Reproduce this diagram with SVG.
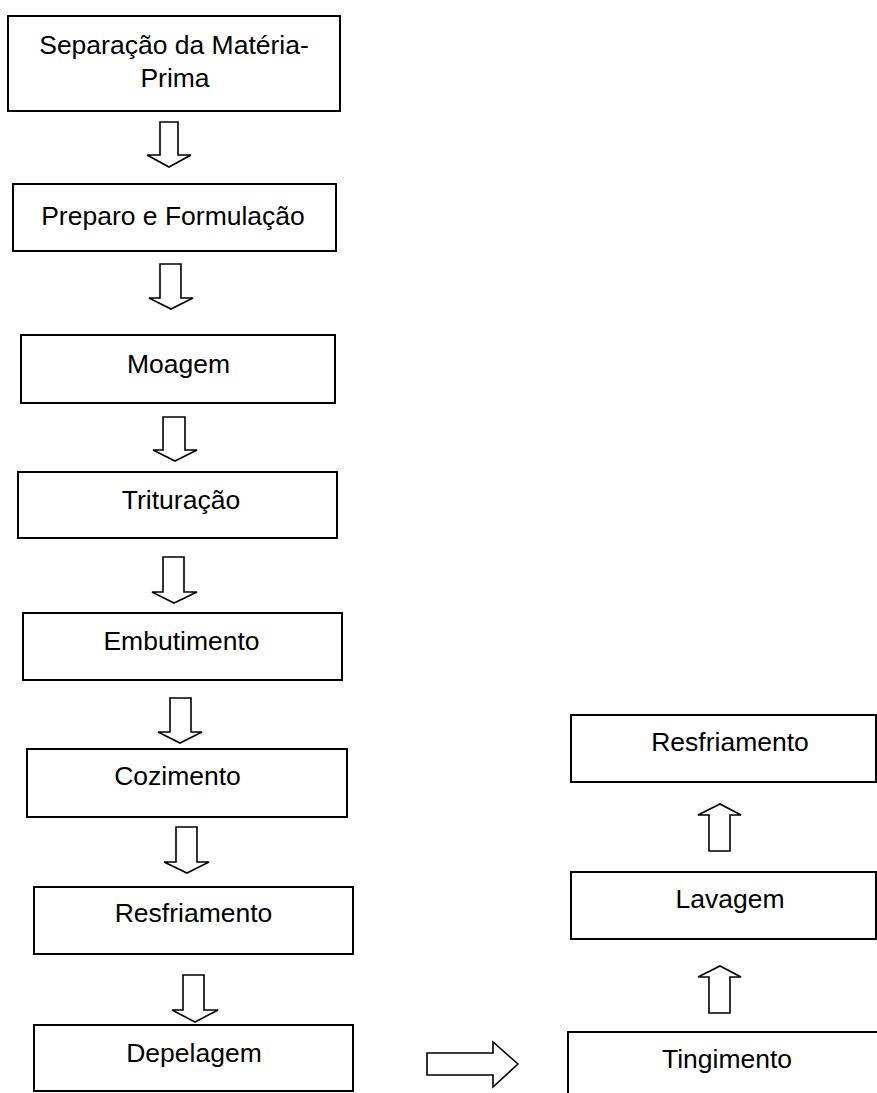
<svg xmlns="http://www.w3.org/2000/svg" width="877" height="1093" viewBox="0 0 877 1093">
<style>
.box{fill:#fff;stroke:#000;stroke-width:2}
.t{font-family:"Liberation Sans",Arial,sans-serif;font-size:26.5px;fill:#000;text-anchor:middle}
.arr{fill:#fff;stroke:#000;stroke-width:1.6;stroke-linejoin:miter}
</style>
<rect width="877" height="1093" fill="#fff"/>
<g id="connectors">
<path class="arr" d="M160,122 H178 V155 H191 L169,167 L147,155 H160 Z"/>
<path class="arr" d="M160,264 H181 V298 H193 L171,309 L149,298 H160 Z"/>
<path class="arr" d="M163,417 H185 V450 H197 L175,461 L153,450 H163 Z"/>
<path class="arr" d="M163,557 H184 V592 H197 L174,603 L152,592 H163 Z"/>
<path class="arr" d="M170,698 H191 V732 H202 L180,743 L158,732 H170 Z"/>
<path class="arr" d="M176,827 H197 V862 H209 L187,873 L164,862 H176 Z"/>
<path class="arr" d="M183,975 H204 V1010 H218 L195,1022 L172,1010 H183 Z"/>
<path class="arr" d="M709,851 H730 V815 H741 L720,804 L698,815 H709 Z"/>
<path class="arr" d="M709,1013 H730 V977 H741 L720,966 L698,977 H709 Z"/>
<path class="arr" d="M427,1053 H493 V1042 L518,1064 L493,1087 V1075 H427 Z"/>
</g>
<g id="n1"><rect class="box" x="8" y="16" width="332" height="95"/><text class="t" x="174" y="54">Separação da Matéria-</text><text class="t" x="175" y="87">Prima</text></g>
<g id="n2"><rect class="box" x="13" y="184" width="323" height="67"/><text class="t" x="173" y="225">Preparo e Formulação</text></g>
<g id="n3"><rect class="box" x="21" y="335" width="314" height="68"/><text class="t" x="178.5" y="373">Moagem</text></g>
<g id="n4"><rect class="box" x="18" y="472" width="319" height="66"/><text class="t" x="181" y="509">Trituração</text></g>
<g id="n5"><rect class="box" x="23" y="613" width="319" height="67"/><text class="t" x="181.5" y="650">Embutimento</text></g>
<g id="n6"><rect class="box" x="27" y="749" width="320" height="68"/><text class="t" x="177.5" y="785">Cozimento</text></g>
<g id="n7"><rect class="box" x="34" y="887" width="319" height="67"/><text class="t" x="193.5" y="922">Resfriamento</text></g>
<g id="n8"><rect class="box" x="34" y="1025" width="319" height="66"/><text class="t" x="194" y="1062">Depelagem</text></g>
<g id="n9"><rect class="box" x="571" y="715" width="305" height="67"/><text class="t" x="730" y="751">Resfriamento</text></g>
<g id="n10"><rect class="box" x="571" y="872" width="305" height="67"/><text class="t" x="730" y="908">Lavagem</text></g>
<g id="n11"><path class="box" d="M568,1093 V1032 H877" fill="none"/><text class="t" x="727" y="1068">Tingimento</text></g>
</svg>
